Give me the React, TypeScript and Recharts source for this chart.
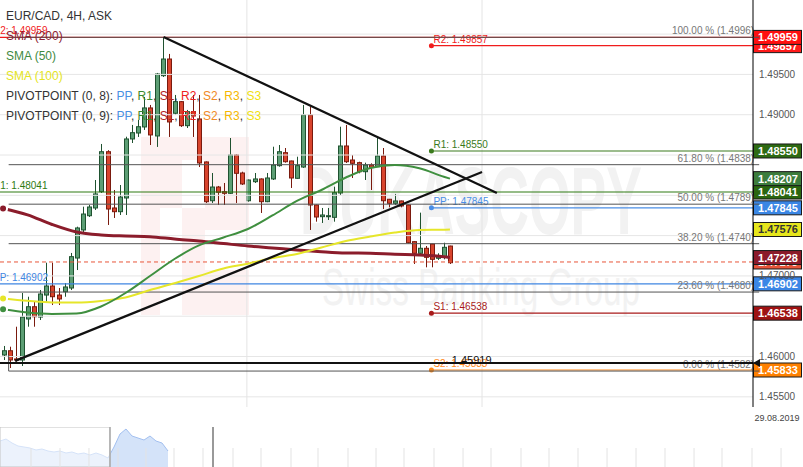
import React from 'react';
import {
  ComposedChart,
  AreaChart,
  Area,
  Bar,
  Line,
  XAxis,
  YAxis,
  ReferenceLine,
  ReferenceArea,
} from 'recharts';

const FONT = '"Liberation Sans", Arial, Helvetica, sans-serif';

// EUR/CAD 4H candles (ask)
const candleOpen = [
  1.46019, 1.46072, 1.4597, 1.45957, 1.46466, 1.46618, 1.4649, 1.46763, 1.46875, 1.46763,
  1.46804, 1.4685, 1.47222, 1.4757, 1.47747, 1.47843, 1.48045, 1.48541, 1.47843, 1.47797,
  1.47967, 1.48699, 1.48773, 1.48848, 1.49084, 1.48736, 1.49484, 1.49691, 1.49018, 1.49162,
  1.48864, 1.49038, 1.48947, 1.48414, 1.47933, 1.48103, 1.48045, 1.48025, 1.485, 1.48277,
  1.47933, 1.48169, 1.48203, 1.47921, 1.48203, 1.48368, 1.48529, 1.48426, 1.48211, 1.48351,
  1.48997, 1.4788, 1.47735, 1.47735, 1.47727, 1.48029, 1.48612, 1.48438, 1.48405, 1.48293,
  1.48376, 1.48355, 1.48488, 1.47951, 1.47901, 1.4793, 1.4788, 1.47425, 1.47281, 1.47343,
  1.47396, 1.47219, 1.47239, 1.47371,
];
const candleHigh = [
  1.46131, 1.46122, 1.4637, 1.46788, 1.46742, 1.4668, 1.46825, 1.47164, 1.47164, 1.4685,
  1.46912, 1.47285, 1.47611, 1.47859, 1.4788, 1.4819, 1.48637, 1.4856, 1.48066, 1.48128,
  1.48727, 1.48873, 1.48935, 1.4922, 1.49121, 1.49518, 1.49964, 1.49754, 1.49245, 1.4917,
  1.49059, 1.49245, 1.49245, 1.4842, 1.48277, 1.48116, 1.48153, 1.48711, 1.4851, 1.48293,
  1.48195, 1.48277, 1.4821, 1.48277, 1.48603, 1.48624, 1.48587, 1.4843, 1.48479, 1.49121,
  1.49096, 1.47885, 1.47843, 1.47843, 1.48107, 1.48851, 1.48873, 1.485, 1.48417, 1.48405,
  1.48397, 1.48711, 1.48587, 1.47955, 1.48017, 1.47935, 1.47885, 1.4743, 1.47785, 1.47371,
  1.474, 1.47281, 1.47412, 1.47375,
];
const candleLow = [
  1.45957, 1.45858, 1.45936, 1.45883, 1.4637, 1.4637, 1.46453, 1.4668, 1.46639, 1.46639,
  1.46742, 1.46825, 1.47073, 1.47545, 1.47731, 1.47818, 1.48029, 1.47632, 1.47719, 1.47756,
  1.47756, 1.48649, 1.48724, 1.48811, 1.48624, 1.486, 1.49468, 1.48724, 1.48997, 1.48848,
  1.48835, 1.48724, 1.48351, 1.47905, 1.47905, 1.4788, 1.4788, 1.48017, 1.47905, 1.48128,
  1.47921, 1.48153, 1.47781, 1.47915, 1.4819, 1.48355, 1.48405, 1.48091, 1.48205, 1.4834,
  1.4757, 1.47673, 1.47657, 1.47694, 1.47673, 1.48004, 1.48401, 1.48215, 1.48273, 1.4819,
  1.48066, 1.48351, 1.4783, 1.47851, 1.4788, 1.47851, 1.47405, 1.47148, 1.4726, 1.47107,
  1.47107, 1.47198, 1.47206, 1.47148,
];
const candleClose = [
  1.46072, 1.45957, 1.45957, 1.4649, 1.46618, 1.46494, 1.46776, 1.46875, 1.46742, 1.46714,
  1.46863, 1.47239, 1.47595, 1.47768, 1.47855, 1.48017, 1.48541, 1.4783, 1.47797, 1.47979,
  1.48699, 1.48777, 1.48851, 1.49084, 1.48749, 1.49505, 1.49691, 1.4891, 1.49162, 1.48864,
  1.49038, 1.48984, 1.48401, 1.47921, 1.48103, 1.48038, 1.48025, 1.485, 1.48273, 1.48141,
  1.4819, 1.48203, 1.47921, 1.48215, 1.48376, 1.48541, 1.48417, 1.48215, 1.48368, 1.48997,
  1.4788, 1.47731, 1.47756, 1.47747, 1.48033, 1.48612, 1.48417, 1.48397, 1.48293, 1.48376,
  1.48347, 1.48488, 1.47933, 1.47901, 1.4793, 1.47868, 1.47412, 1.47281, 1.47343, 1.47231,
  1.47206, 1.47247, 1.47355, 1.47164,
];

// moving averages, read at every 4th candle slot
const smaSlots = [0, 4, 8, 12, 16, 20, 24, 28, 32, 36, 40, 44, 48, 52, 56, 60, 64, 68, 72, 73];
const sma200 = [
  1.47837, 1.47758, 1.47638, 1.47545, 1.47508, 1.47495, 1.47487, 1.47458, 1.47433, 1.47402,
  1.47371, 1.47347, 1.47322, 1.47301, 1.47285, 1.47281, 1.47268, 1.4726, 1.47238, 1.47228,
];
const sma100 = [
  1.4672, 1.46691, 1.4667, 1.46669, 1.46689, 1.46732, 1.46825, 1.4691, 1.46999, 1.47092,
  1.47152, 1.47222, 1.47272, 1.47353, 1.47433, 1.47489, 1.47539, 1.4757, 1.47574, 1.47576,
];
const sma50 = [
  1.46586, 1.46546, 1.46528, 1.46534, 1.46621, 1.46788, 1.46999, 1.4721, 1.47378, 1.47477,
  1.47582, 1.4775, 1.4793, 1.48066, 1.48221, 1.48339, 1.48376, 1.48335, 1.4823, 1.48207,
];

const SLOTS = 123;
const priceDomain = [1.45374, 1.50423];
const priceTicks = [1.455, 1.46, 1.47, 1.49, 1.495];
const gridPrices = [1.455, 1.46, 1.465, 1.47, 1.475, 1.48, 1.485, 1.49, 1.495, 1.5];

const dayTicks = [0, 40, 78.1];
const dayNames = ['Aug', '10', '20'];

// pivot points of the current session
const pivotNames = ['R2', 'R1', 'PP', 'S1', 'S2'];
const pivotValues = [1.49857, 1.4855, 1.47845, 1.46538, 1.45833];
const pivotColors = ['#f01c1c', '#3a7a1c', '#4a8ee6', '#a81a1a', '#ff8a1a'];
const pivotBoxes = ['#ff1a1a', '#2d6a12', '#3a86e4', '#9e1212', '#ff8000'];
const pivotStart = 69.9;

// pivot points of the previous session
const prevNames = ['R2', 'R1', 'PP'];
const prevValues = [1.49959, 1.48041, 1.46902];
const prevColors = ['#f01c1c', '#2f7a12', '#3f86e2'];
const prevBoxes = ['#ff1010', '#2a6610', '#3a86e6'];

// fibonacci retracement
const fibPercents = ['100.00', '61.80', '50.00', '38.20', '23.60', '0.00'];
const fibPrices = [1.4996, 1.4838, 1.4789, 1.474, 1.468, 1.4582];
const fibStart = 1.4;

const trendDown = [{ t: 26.5, p: 1.49964 }, { t: 80.5, p: 1.48029 }];
const trendUp = [{ t: 2.45, p: 1.45946 }, { t: 78.1, p: 1.48289 }];
const markedPrice = 1.45919;
const lastPrice = 1.47173;

// navigator strip
const navLevels = [
  26, 28, 24, 21, 20, 19, 17, 18, 16, 15, 16, 14, 15, 13, 14, 12, 14, 12, 9,
  20, 33, 38, 31, 29, 27, 31, 26, 24, 16,
];
const navDays = [
  5.17, 10, 14.83, 19.67, 24.33, 29, 33.83, 38.83, 43.5, 48.5, 53, 58, 62.67, 67.33,
  72.33, 77.17, 81.83, 86.83, 91.5, 96.33, 101.17, 106, 110.83, 115.67, 120.33, 125.33, 130.17,
];
const navWindow = [18.33, 35.5];

const rows = Array.from({ length: SLOTS }, (_, i) => {
  const row: any = { slot: i };
  if (i < candleOpen.length) {
    row.o = candleOpen[i];
    row.h = candleHigh[i];
    row.l = candleLow[i];
    row.c = candleClose[i];
    row.range = [candleLow[i], candleHigh[i]];
  }
  const k = smaSlots.indexOf(i);
  if (k >= 0) {
    row.sma200 = sma200[k];
    row.sma100 = sma100[k];
    row.sma50 = sma50[k];
  }
  return row;
});

const navRows = navLevels.map((v, k) => ({ k, v }));

function Candle(props: any) {
  const { x, y, width, height, payload } = props;
  if (!payload || payload.o == null) return null;
  const top = Math.min(y, y + height);
  const span = Math.abs(height);
  const { o, h, l, c } = payload;
  const k = h > l ? span / (h - l) : 0;
  const yOf = (v: number) => top + (h - v) * k;
  const up = c >= o;
  const cx = Math.round(x + width / 2) + 0.5;
  const bTop = yOf(Math.max(o, c));
  const bBot = yOf(Math.min(o, c));
  const fill = up ? '#5c9e74' : '#d8442d';
  const edge = up ? '#1f5230' : '#7a1a0e';
  return (
    <g>
      <line x1={cx} x2={cx} y1={top} y2={top + span} stroke={edge} strokeWidth={1} />
      <rect x={cx - 2} y={bTop} width={4} height={Math.max(bBot - bTop, 1)} fill={fill} stroke={edge} strokeWidth={1} />
    </g>
  );
}

function DayTick(props: any) {
  const { x, y, payload } = props;
  const k = dayTicks.indexOf(payload.value);
  const shift = k === 0 ? -6 : 0;
  return (
    <text x={x + shift} y={y + 5} textAnchor="middle" fontSize={12} fontWeight="bold" fill="#333" fontFamily={FONT}>
      {dayNames[k] ?? ''}
    </text>
  );
}

function Tag({ right, y, text, bg, fg }: any) {
  return (
    <g>
      <rect x={right + 0.5} y={y - 7} width={48} height={14} fill={bg} stroke="#1a1a1a" strokeWidth={1} />
      <text x={right + 25} y={y + 4} textAnchor="middle" fontSize={11} fontWeight="bold" fill={fg} fontFamily={FONT}>
        {text}
      </text>
    </g>
  );
}

// price box on the right axis, hung on a full-width reference line
const tagLabel = (text: string, bg: string, fg = '#fff') => (p: any) => {
  const vb = p.viewBox;
  return <Tag right={vb.x + vb.width} y={vb.y} text={text} bg={bg} fg={fg} />;
};

const pivotLabel = (i: number) => (p: any) => {
  const vb = p.viewBox;
  const text = `${pivotNames[i]}: ${pivotValues[i].toFixed(5)}`;
  return (
    <g>
      <circle cx={vb.x} cy={vb.y} r={2.5} fill={pivotColors[i]} />
      <text x={vb.x + 2} y={vb.y - 3} fontSize={10} fill={pivotColors[i]} fontFamily={FONT}>{text}</text>
    </g>
  );
};

const prevLabel = (i: number) => (p: any) => {
  const vb = p.viewBox;
  const text = `${prevNames[i]}: ${prevValues[i].toFixed(5)}`;
  return (
    <g>
      <text x={vb.x - 7} y={vb.y - 3} fontSize={10} fill={prevColors[i]} fontFamily={FONT}>{text}</text>
      <Tag right={vb.x + vb.width} y={vb.y} text={prevValues[i].toFixed(5)} bg={prevBoxes[i]} fg="#fff" />
    </g>
  );
};

const fibLabel = (i: number) => (p: any) => {
  const vb = p.viewBox;
  return (
    <text x={vb.x + vb.width - 5} y={vb.y - 3} textAnchor="end" fontSize={10} fill="#777" fontFamily={FONT}>
      {`${fibPercents[i]} % (${fibPrices[i].toFixed(4)})`}
    </text>
  );
};

function ArrowLine(props: any) {
  const { x1, y1, x2, y2 } = props;
  return (
    <g>
      <line x1={x1} y1={y1} x2={x2 - 6} y2={y2} stroke="#111" strokeWidth={2} />
      <path d={`M${x2},${y2} L${x2 - 9},${y2 - 4} L${x2 - 9},${y2 + 4} Z`} fill="#111" />
      <path d={`M${x1},${y1} L${x1 + 7},${y1 - 4} L${x1 + 7},${y1 + 4} Z`} fill="#111" />
    </g>
  );
}

const markLabel = (p: any) => {
  const vb = p.viewBox;
  return (
    <text x={vb.x + vb.width * 0.6} y={vb.y + 1} fontSize={11} fill="#111" fontFamily={FONT}>
      {markedPrice.toFixed(5)}
    </text>
  );
};

const last = (a: number[]) => a[a.length - 1];

function Watermark() {
  return (
    <svg width={803} height={427} style={{ position: 'absolute', left: 0, top: 0 }}>
      <rect x={141} y={137} width={108} height={178} fill="#fdf1f1" />
      <rect x={160} y={208} width={22} height={107} fill="#fff" />
      <rect x={182} y={160} width={23} height={48} fill="#fff" />
      <rect x={205} y={230} width={44} height={40} fill="#fff" />
      <text x={300} y={234} fontSize={96} fontWeight={900} fill="#f2f2f2" fontFamily={FONT} textLength={342} lengthAdjust="spacingAndGlyphs">
        DUKASCOPY
      </text>
      <text x={322} y={305} fontSize={52} fill="#f2f2f2" fontFamily={FONT} textLength={318} lengthAdjust="spacingAndGlyphs">
        Swiss Banking Group
      </text>
    </svg>
  );
}

function PivotLegend({ y, period }: { y: number; period: number }) {
  const parts: [string, string][] = [
    ['PP', '#4a90e2'], ['R1', '#3c8a2e'], ['S1', '#b22222'], ['R2', '#ee2222'],
    ['S2', '#f08a24'], ['R3', '#f5b800'], ['S3', '#f0e010'],
  ];
  return (
    <text x={6} y={y} fontSize={12} fill="#333" fontFamily={FONT}>
      {`PIVOTPOINT (0, ${period}): `}
      {parts.map(([name, color], i) => (
        <React.Fragment key={name}>
          <tspan fill={color}>{name}</tspan>
          {i < parts.length - 1 ? <tspan fill="#333">, </tspan> : null}
        </React.Fragment>
      ))}
    </text>
  );
}

function Overlay() {
  return (
    <svg width={803} height={467} style={{ position: 'absolute', left: 0, top: 0, pointerEvents: 'none' }}>
      <text x={6} y={20} fontSize={12} fill="#333" fontFamily={FONT}>EUR/CAD, 4H, ASK</text>
      <text x={6} y={40} fontSize={12} fill="#8b2232" fontFamily={FONT}>SMA (200)</text>
      <text x={6} y={60} fontSize={12} fill="#3f8a3f" fontFamily={FONT}>SMA (50)</text>
      <text x={6} y={80} fontSize={12} fill="#e4e424" fontFamily={FONT}>SMA (100)</text>
      <PivotLegend y={100} period={8} />
      <PivotLegend y={120} period={9} />
      <text x={777} y={421} textAnchor="middle" fontSize={9} fill="#444" fontFamily={FONT}>29.08.2019</text>
    </svg>
  );
}

export default function App() {
  return (
    <div style={{ position: 'relative', width: 803, height: 467, background: '#fff', fontFamily: FONT, overflow: 'hidden' }}>
      <style>{'body{margin:0}'}</style>
      <Watermark />
      <div style={{ position: 'absolute', left: 0, top: 0 }}>
        <ComposedChart width={803} height={427} data={rows} margin={{ top: 0, right: 0, bottom: 0, left: 0 }}>
          <XAxis xAxisId="c" dataKey="slot" type="category" hide />
          <XAxis
            xAxisId="t"
            type="number"
            domain={[0, SLOTS]}
            ticks={dayTicks}
            interval={0}
            allowDataOverflow
            tick={<DayTick />}
            tickLine={false}
            axisLine={{ stroke: '#000' }}
            height={20}
          />
          <YAxis
            yAxisId="p"
            orientation="right"
            type="number"
            domain={priceDomain}
            allowDataOverflow
            ticks={priceTicks}
            interval={0}
            width={50}
            tickLine={false}
            tickMargin={0}
            axisLine={{ stroke: '#000' }}
            tick={{ fontSize: 10, fill: '#555', fontFamily: FONT }}
            tickFormatter={(v: number) => v.toFixed(5)}
          />

          {gridPrices.map((p) => (
            <ReferenceLine key={`g${p}`} xAxisId="t" yAxisId="p" y={p} stroke="#e6e6e6" />
          ))}
          {dayTicks.slice(1).map((t) => (
            <ReferenceLine key={`d${t}`} xAxisId="t" yAxisId="p" x={t} stroke="#e4e4e4" />
          ))}

          {pivotValues.map((v, i) => (
            <ReferenceLine
              key={`pv${i}`}
              xAxisId="t"
              yAxisId="p"
              ifOverflow="visible"
              segment={[{ x: pivotStart, y: v }, { x: SLOTS, y: v }]}
              stroke={pivotColors[i]}
              strokeWidth={1.2}
              label={pivotLabel(i)}
            />
          ))}
          {pivotValues.map((v, i) => (
            <ReferenceLine
              key={`pt${i}`}
              xAxisId="t"
              yAxisId="p"
              y={v}
              strokeOpacity={0}
              label={tagLabel(v.toFixed(5), pivotBoxes[i])}
            />
          ))}
          {prevValues.map((v, i) => (
            <ReferenceLine key={`pp${i}`} xAxisId="t" yAxisId="p" y={v} stroke={prevColors[i]} strokeWidth={1.2} label={prevLabel(i)} />
          ))}
          {fibPrices.map((v, i) => (
            <ReferenceLine
              key={`f${i}`}
              xAxisId="t"
              yAxisId="p"
              ifOverflow="visible"
              segment={[{ x: fibStart, y: v }, { x: SLOTS, y: v }]}
              stroke="#555"
              label={fibLabel(i)}
            />
          ))}
          <ReferenceLine
            xAxisId="t"
            yAxisId="p"
            ifOverflow="visible"
            segment={[{ x: fibStart, y: 1.46019 }, { x: fibStart, y: fibPrices[5] }]}
            stroke="#555"
          />
          <ReferenceLine xAxisId="t" yAxisId="p" y={markedPrice} shape={ArrowLine} label={markLabel} />
          <ReferenceLine
            xAxisId="t"
            yAxisId="p"
            y={lastPrice}
            stroke="#e8553a"
            strokeDasharray="4 3"
            label={tagLabel(lastPrice.toFixed(5), '#e8553a')}
          />

          <Bar xAxisId="c" yAxisId="p" dataKey="range" shape={<Candle />} barSize={5} isAnimationActive={false} />
          <Line xAxisId="c" yAxisId="p" dataKey="sma200" type="monotone" stroke="#8b1c2b" strokeWidth={3} dot={false} connectNulls isAnimationActive={false} />
          <Line xAxisId="c" yAxisId="p" dataKey="sma100" type="monotone" stroke="#e6e62a" strokeWidth={2} dot={false} connectNulls isAnimationActive={false} />
          <Line xAxisId="c" yAxisId="p" dataKey="sma50" type="monotone" stroke="#3f8f3f" strokeWidth={2} dot={false} connectNulls isAnimationActive={false} />

          <ReferenceLine
            xAxisId="t"
            yAxisId="p"
            ifOverflow="visible"
            segment={[{ x: trendDown[0].t, y: trendDown[0].p }, { x: trendDown[1].t, y: trendDown[1].p }]}
            stroke="#111"
            strokeWidth={2.2}
          />
          <ReferenceLine
            xAxisId="t"
            yAxisId="p"
            ifOverflow="visible"
            segment={[{ x: trendUp[0].t, y: trendUp[0].p }, { x: trendUp[1].t, y: trendUp[1].p }]}
            stroke="#111"
            strokeWidth={2.2}
          />

          <ReferenceLine xAxisId="t" yAxisId="p" y={last(sma50)} strokeOpacity={0} label={tagLabel(last(sma50).toFixed(5), '#3c7c3c')} />
          <ReferenceLine xAxisId="t" yAxisId="p" y={last(sma100)} strokeOpacity={0} label={tagLabel(last(sma100).toFixed(5), '#e6e61c', '#333')} />
          <ReferenceLine xAxisId="t" yAxisId="p" y={last(sma200)} strokeOpacity={0} label={tagLabel(last(sma200).toFixed(5), '#8b1a2a')} />
        </ComposedChart>
      </div>
      <div style={{ position: 'absolute', left: 0, top: 427 }}>
        <AreaChart width={803} height={40} data={navRows} margin={{ top: 0, right: 0, bottom: 0, left: 0 }}>
          <XAxis dataKey="k" type="number" domain={[0, 133.83]} hide />
          <YAxis domain={[0, 40]} hide />
          {navDays.map((d) => (
            <ReferenceLine key={`n${d}`} ifOverflow="visible" segment={[{ x: d, y: 0 }, { x: d, y: 19 }]} stroke="#e3e3e3" />
          ))}
          <Area dataKey="v" type="linear" stroke="#a3c0f0" fill="#d4e3f9" fillOpacity={1} isAnimationActive={false} />
          <ReferenceArea x1={0} x2={navWindow[0]} y1={0} y2={40} fill="#fff" fillOpacity={0.55} stroke="#c4c4c4" ifOverflow="visible" />
          <ReferenceLine x={navWindow[0]} stroke="#aaa" strokeWidth={1.5} />
          <ReferenceLine x={navWindow[1]} stroke="#999" strokeWidth={2} />
        </AreaChart>
      </div>
      <Overlay />
    </div>
  );
}
